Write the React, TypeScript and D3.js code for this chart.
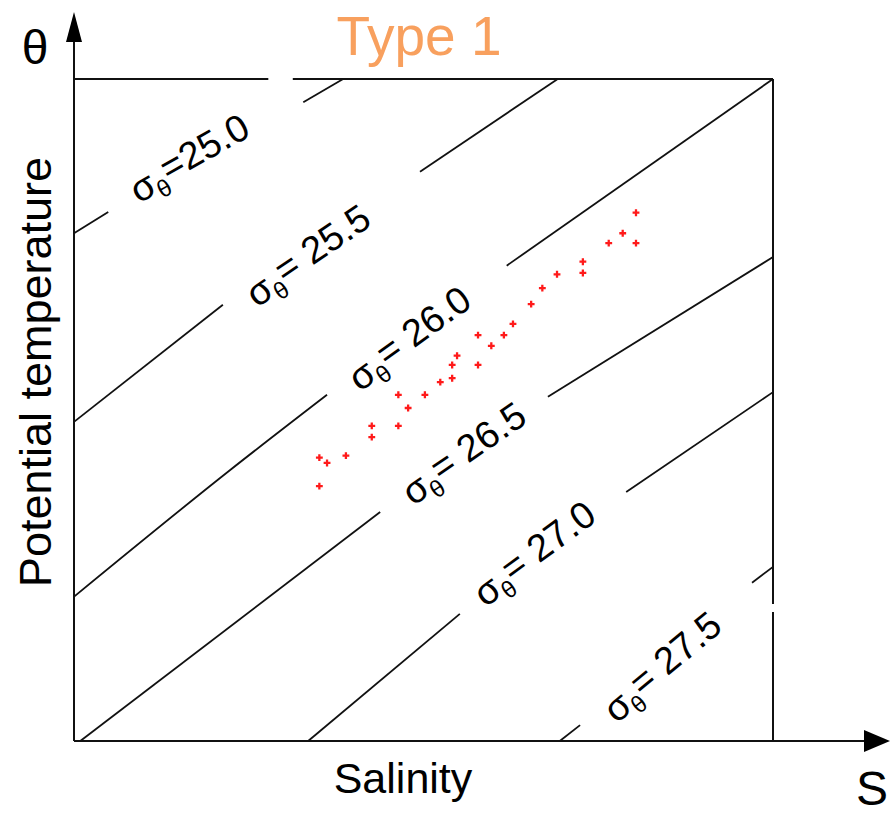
import React from "react";
import * as d3 from "d3";

// ---- data (arbitrary units: salinity S 0–100, potential temperature θ 0–100) ----
const sigmaLabels = ["=25.0", "= 25.5", "= 26.0", "= 26.5", "= 27.0", "= 27.5"];

// isopycnal pieces (below and above the label gap), [S, θ]
const iso250Lower: [number, number][] = [[0, 76.7], [4.9, 79.9]];
const iso250Upper: [number, number][] = [[32.8, 96.5], [38.5, 100]];
const iso255Lower: [number, number][] = [[0, 48.2], [21.3, 65.9]];
const iso255Upper: [number, number][] = [[49.5, 86.0], [69.2, 100]];
const iso260Lower: [number, number][] = [[0, 21.8], [22.3, 40.9], [36.2, 52.3]];
const iso260Upper: [number, number][] = [[61.9, 71.8], [100, 100]];
const iso265Lower: [number, number][] = [[0.9, 0], [43.8, 34.6]];
const iso265Upper: [number, number][] = [[67.8, 52.0], [100, 73.1]];
const iso270Lower: [number, number][] = [[33.5, 0], [55.2, 19.2]];
const iso270Upper: [number, number][] = [[79.0, 37.6], [100, 52.7]];
const iso275Lower: [number, number][] = [[69.5, 0], [72.4, 2.4]];
const iso275Upper: [number, number][] = [[97.0, 23.9], [100, 26.3]];

// label centres [S, θ]
const labelCenters: [number, number][] = [
  [16.6, 87.8],
  [33.6, 73.1],
  [48.1, 60.6],
  [55.9, 43.2],
  [66.0, 28.1],
  [84.3, 11.0],
];

// observed profile (red points)
const obsS = [35.1, 36.2, 38.9, 35.1, 42.6, 42.6, 46.4, 47.8, 46.4, 50.2, 52.4, 54.1, 54.1, 54.8,
  57.8, 57.8, 59.7, 61.5, 62.8, 65.4, 67.0, 69.1, 72.8, 72.8, 76.5, 80.4, 78.5, 80.4];
const obsT = [42.8, 42.0, 43.1, 38.5, 47.6, 45.9, 52.3, 50.3, 47.6, 52.3, 54.2, 54.8, 56.8, 58.2,
  56.8, 61.3, 59.7, 61.3, 63.0, 66.0, 68.4, 70.5, 70.7, 72.4, 75.2, 75.2, 76.7, 79.8];

// small breaks in the frame (S on top edge, θ on right edge)
const topGap: [number, number] = [27.8, 31.3];
const rightGap: [number, number] = [19.5, 20.7];

const W = 892;
const H = 818;
const FONT = "'Liberation Sans', Arial, Helvetica, sans-serif";

export default function App() {
  const x = d3.scaleLinear().domain([0, 100]).range([74, 773]);
  const y = d3.scaleLinear().domain([0, 100]).range([741, 79]);

  const line = d3
    .line<[number, number]>()
    .x((d) => x(d[0]))
    .y((d) => y(d[1]))
    .curve(d3.curveMonotoneX);

  const isos = [
    [iso250Lower, iso250Upper],
    [iso255Lower, iso255Upper],
    [iso260Lower, iso260Upper],
    [iso265Lower, iso265Upper],
    [iso270Lower, iso270Upper],
    [iso275Lower, iso275Upper],
  ];

  const sym = d3.symbol().type(d3.symbolCross).size(26)();

  const x0 = x(0), x1 = x(100), y0 = y(0), y1 = y(100);

  return (
    <svg
      width={W}
      height={H}
      style={{ position: "absolute", left: 0, top: 0, background: "#fff" }}
      fontFamily={FONT}
    >
      <rect width={W} height={H} fill="#fff" />
      {/* frame */}
      <g stroke="#111" strokeWidth={2} fill="none">
        <line x1={x0} y1={y1} x2={x(topGap[0])} y2={y1} />
        <line x1={x(topGap[1])} y1={y1} x2={x1} y2={y1} />
        <line x1={x1} y1={y1} x2={x1} y2={y(rightGap[1])} />
        <line x1={x1} y1={y(rightGap[0])} x2={x1} y2={y0} />
        <line x1={x0} y1={y0} x2={866} y2={y0} />
        <line x1={x0} y1={y0} x2={x0} y2={38} />
      </g>
      <path d={`M${890},${y0} L${864},${y0 - 11} L${864},${y0 + 11} Z`} fill="#000" />
      <path d={`M${x0},${12} L${x0 - 8},${42} L${x0 + 8},${42} Z`} fill="#000" />

      {/* isopycnals */}
      <g stroke="#111" strokeWidth={1.8} fill="none">
        {isos.map((parts, i) =>
          parts.map((p, j) => <path key={`${i}-${j}`} d={line(p) || ""} />)
        )}
      </g>

      {/* labels */}
      {isos.map((parts, i) => {
        const a = parts[0][parts[0].length - 1];
        const b = parts[1][0];
        const ang = (Math.atan2(y(b[1]) - y(a[1]), x(b[0]) - x(a[0])) * 180) / Math.PI;
        const [cs, ct] = labelCenters[i];
        return (
          <text
            key={i}
            transform={`translate(${x(cs)},${y(ct)}) rotate(${ang})`}
            textAnchor="middle"
            dy="0.35em"
            fontSize={38}
            fill="#000"
          >
            σ<tspan fontSize={24} dy="0.3em">θ</tspan>
            <tspan dy="-0.3em">{sigmaLabels[i]}</tspan>
          </text>
        );
      })}

      {/* observations */}
      <g fill="#ff1a1a">
        {obsS.map((s, i) => (
          <path key={i} d={sym || ""} transform={`translate(${x(s)},${y(obsT[i])})`} />
        ))}
      </g>

      {/* titles */}
      <text x={419} y={55} textAnchor="middle" fontSize={55} fill="#F8A05E">
        Type 1
      </text>
      <text x={35} y={64} textAnchor="middle" fontSize={48} fill="#000">
        θ
      </text>
      <text x={872} y={805} textAnchor="middle" fontSize={48} fill="#000">
        S
      </text>
      <text x={403} y={793} textAnchor="middle" fontSize={43} fill="#000">
        Salinity
      </text>
      <text
        transform={`translate(51,372) rotate(-90)`}
        textAnchor="middle"
        fontSize={45}
        fill="#000"
      >
        Potential temperature
      </text>
    </svg>
  );
}
